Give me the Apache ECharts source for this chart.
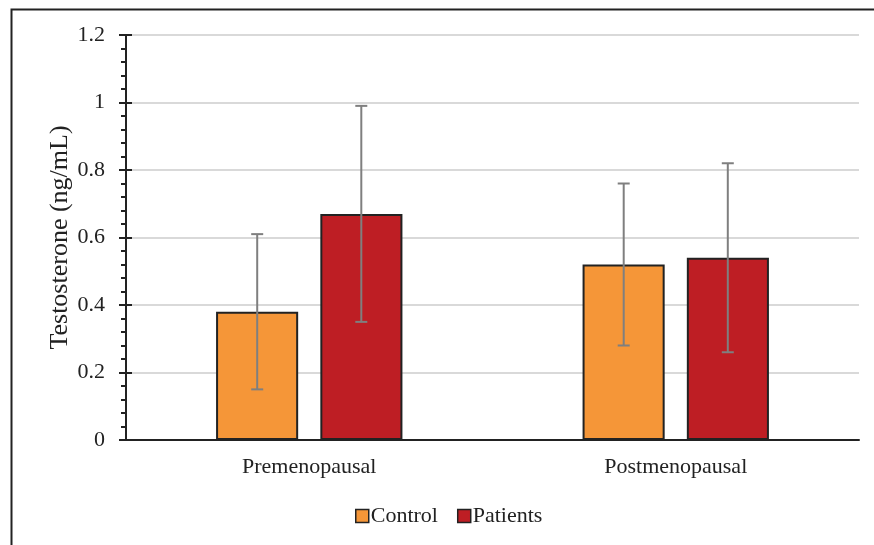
<!DOCTYPE html>
<html><head><meta charset="utf-8">
<script src="https://cdn.jsdelivr.net/npm/echarts@6/dist/echarts.min.js"></script>
<style>html,body{margin:0;padding:0;background:#fff}#c{width:874px;height:545px}</style>
</head><body><div id="c"></div>
<script>
const categories = ['Premenopausal', 'Postmenopausal'];
const seriesNames = ['Control', 'Patients'];
const controlMean = [0.38, 0.52];
const controlSD = [0.23, 0.24];
const patientsMean = [0.67, 0.54];
const patientsSD = [0.32, 0.28];
const yTicks = [0, 0.2, 0.4, 0.6, 0.8, 1, 1.2];

const colors = ['#F59638', '#BE1E24'];
const font = 'Liberation Serif';
const chart = echarts.init(document.getElementById('c'));

const barWidthPct = 0.224;
const gapFrac = 22 / 366.5;

function errSeries(means, sds, idx) {
  return {
    type: 'custom',
    name: seriesNames[idx] + ' err',
    z: 10,
    silent: true,
    data: means.map((m, i) => [i, m - sds[i], m + sds[i]]),
    renderItem: function (params, api) {
      const band = api.size([1, 0])[0];
      const bw = band * barWidthPct;
      const gap = band * gapFrac;
      const off = (idx === 0 ? -1 : 1) * (bw / 2 + gap / 2);
      const lo = api.coord([api.value(0), api.value(1)]);
      const hi = api.coord([api.value(0), api.value(2)]);
      const x = lo[0] + off;
      const cap = 6;
      const st = { stroke: '#7F7F7F', lineWidth: 2 };
      return { type: 'group', children: [
        { type: 'line', shape: { x1: x, y1: lo[1], x2: x, y2: hi[1] }, style: st },
        { type: 'line', shape: { x1: x - cap, y1: lo[1], x2: x + cap, y2: lo[1] }, style: st },
        { type: 'line', shape: { x1: x - cap, y1: hi[1], x2: x + cap, y2: hi[1] }, style: st }
      ]};
    }
  };
}

const yBase = {
  type: 'value', min: yTicks[0], max: yTicks[yTicks.length - 1], interval: 0.2,
};

chart.setOption({
  animation: false,
  textStyle: { fontFamily: font },
  graphic: [{
    type: 'rect', left: 9, top: 7, z: -1,
    shape: { x: 0, y: 0, width: 900, height: 600 },
    style: { fill: 'none', stroke: '#222', lineWidth: 2 }
  }],
  grid: { left: 126, right: 15, top: 35, bottom: 105 },
  legend: {
    data: seriesNames,
    bottom: 18, left: 355, padding: 0,
    icon: 'rect', itemWidth: 13, itemHeight: 13, itemGap: 19,
    itemStyle: { borderColor: '#222', borderWidth: 1.5 },
    textStyle: { fontFamily: font, fontSize: 22, color: '#222', padding: [0, 0, 0, -3] }
  },
  xAxis: {
    type: 'category', data: categories,
    axisLine: { lineStyle: { color: '#222', width: 2 } },
    axisTick: { show: false },
    axisLabel: { fontFamily: font, fontSize: 22, color: '#222', margin: 16 }
  },
  yAxis: [
    Object.assign({}, yBase, {
      name: 'Testosterone (ng/mL)', nameLocation: 'middle', nameGap: 53,
      nameMoveOverlap: false,
      nameTextStyle: { fontFamily: font, fontSize: 26, color: '#222' },
      axisLine: { show: true, lineStyle: { color: '#222', width: 2 } },
      axisTick: { show: true, length: 7, lineStyle: { color: '#222', width: 2 } },
      minorTick: { show: true, splitNumber: 5, length: 5, lineStyle: { color: '#222', width: 2 } },
      axisLabel: { fontFamily: font, fontSize: 22, color: '#222', margin: 21,
        formatter: v => String(Math.round(v * 10) / 10) },
      splitLine: { show: true, lineStyle: { color: '#D9D9D9', width: 2 } }
    }),
    Object.assign({}, yBase, {
      position: 'left',
      axisLine: { show: false },
      axisTick: { show: true, inside: true, length: 6, lineStyle: { color: '#222', width: 2 } },
      axisLabel: { show: false },
      splitLine: { show: false }
    })
  ],
  series: [
    { name: 'Control', type: 'bar', data: controlMean, barWidth: (barWidthPct * 100) + '%', barGap: '27%',
      itemStyle: { color: colors[0], borderColor: '#222', borderWidth: 2 } },
    { name: 'Patients', type: 'bar', data: patientsMean, barWidth: (barWidthPct * 100) + '%', barGap: '27%',
      itemStyle: { color: colors[1], borderColor: '#222', borderWidth: 2 } },
    errSeries(controlMean, controlSD, 0),
    errSeries(patientsMean, patientsSD, 1)
  ]
});
</script></body></html>
